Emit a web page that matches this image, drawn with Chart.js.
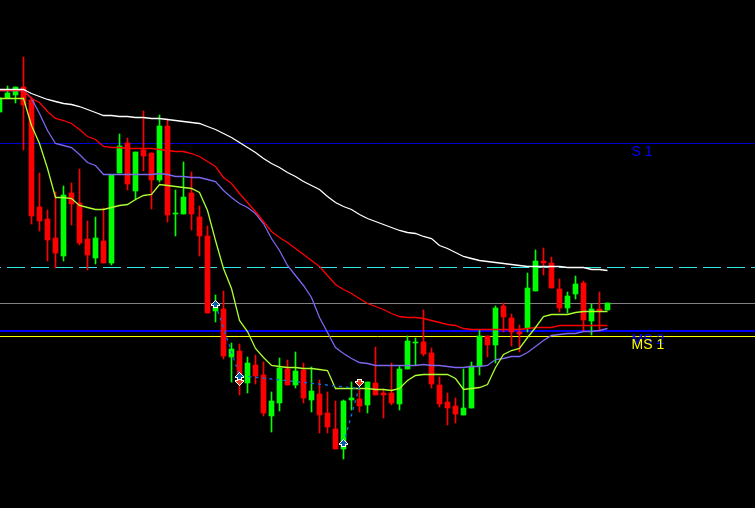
<!DOCTYPE html>
<html>
<head>
<meta charset="utf-8">
<title>Candles</title>
<script src="https://cdn.jsdelivr.net/npm/chart.js@4/dist/chart.umd.min.js"></script>
<style>
  html, body { margin: 0; padding: 0; background: #000; }
  canvas { display: block; }
</style>
</head>
<body>
<canvas id="chart" width="755" height="508"></canvas>
<script>
// candles, oldest first
const opens = [396,410,413,421,408,301,289,270,252,315,305,269,250,267,245,335,365,317,358,355,328,382,294,294,315,291,272,197,199,151,157,125,143,133,92,105,139,123,138,108,114,95,79,59,108,109,103,125,115,115,104,139,165,166,155,123,106,102,93,100,142,172,163,202,190,176,180,217,247,245,219,200,214,225,187,199,198]
const closes = [410,415,421,403,292,287,268,255,313,304,265,253,270,245,333,362,324,356,352,328,382,293,295,311,294,272,195,201,152,159,128,145,132,95,107,140,123,137,110,117,93,81,59,107,110,102,126,113,113,105,139,167,166,154,124,104,100,94,100,142,172,163,200,191,176,174,220,247,245,220,200,212,224,188,199,197,205]
const highs = [411,422,421,451,411,335,298,316,322,325,339,287,291,300,333,374,370,356,397,355,393,389,318,346,336,302,282,213,217,165,164,151,153,146,116,150,148,156,145,141,128,116,107,108,126,120,126,161,119,145,142,172,170,198,160,131,115,110,139,146,178,172,202,205,194,183,235,258,260,251,229,216,232,227,204,216,205]
const lows = [396,410,405,358,284,277,247,240,247,283,263,238,244,245,243,335,318,308,337,299,326,286,272,294,278,252,195,186,149,126,113,115,124,92,76,97,123,120,105,96,75,75,59,49,98,96,95,113,90,103,98,139,143,152,120,101,83,85,93,100,133,151,145,176,162,156,176,217,233,220,196,195,209,177,173,177,198]

// moving averages
const maWhite = [419,419,419,419,415,412,409,407,405,404,402,399,396,393,393,392,392,391,391,390,390,389,388,387,386,385,382,379,375,371,366,361,356,350,345,341,336,332,327,323,319,312,306,302,299,294,290,287,284,281,278,276,275,272,270,263,260,256,252,250,248,247,246,245,244,243,242,242,242,242,242,241,241,241,239,239,238]
const maRed = [418,418,418,418,410,406,397,390,388,385,379,372,369,362,361,361,360,360,360,360,359,358,357,357,355,352,347,342,331,325,315,306,297,287,277,271,266,260,254,248,242,233,224,219,215,210,205,202,199,195,192,191,191,190,188,186,184,183,180,179,179,179,179,179,179,179,180,181,181,181,183,183,183,183,183,183,183]
const maPurple = [418,418,418,418,410,395,378,365,363,361,354,346,343,334,334,334,334,334,334,334,335,334,332,332,331,331,329,327,318,311,305,301,295,285,270,258,243,233,223,211,191,176,161,155,150,146,145,143,143,143,143,143,143,144,143,143,142,141,141,142,142,143,149,150,152,152,156,162,168,173,174,175,175,177,177,178,180]
const maLime = [410,410,410,410,383,365,340,311,311,310,303,301,299,299,301,303,304,309,313,314,324,323,322,321,320,316,298,268,240,220,188,177,160,151,143,142,141,141,140,140,139,138,120,120,120,120,120,119,119,118,120,128,133,134,134,134,134,130,119,120,121,124,141,154,158,160,171,181,192,194,194,194,196,197,197,197,197]

// zigzag legs and the arrows sitting on them
const zigzagIndex = [27, 30, 45]
const zigzagValues = [204, 133, 120]
const zigzagTwoIndex = [43, 45]
const zigzagTwoValues = [65, 122]
const upIndex = [27, 30, 43]
const upValues = [204, 132, 65]
const downIndex = [30, 45]
const downValues = [126, 125]

// horizontal levels
const levelNames = ['S 1', 'cyan', 'gray', 'MS 2', 'MS 1']
const levelValues = [365, 241, 205, 177.5, 172]
const levelColors = ['#0000cd', '#33e6e6', '#808080', '#0000ff', '#ffff00']
const levelWidths = [1, 1, 1, 2, 1]

// object labels
const labelTexts = ['S 1', 'MS 2', 'MS 1']
const labelValues = [365, 177.5, 172]
const labelColors = ['#0000ff', '#0000ff', '#ffff00']
const labelIndex = 79

const xMin = 0.0625
const xMax = 94.4375

const toPoints = (values) => values.map((y, x) => ({ x, y }))
const zipPoints = (xs, ys) => xs.map((x, i) => ({ x, y: ys[i] }))
const candleColors = opens.map((o, i) => (closes[i] >= o ? '#00ff00' : '#ff0000'))

// arrow markers, drawn as small sprites
const makeArrow = (fill, flip) => {
  const rows = [
    '....W....',
    '...WFW...',
    '..WFFFW..',
    '.WFFFFFW.',
    'WFFFFFFFW',
    'WWWFFFWWW',
    '..WFFFW..',
    '..WWWWW..',
  ]
  const sprite = document.createElement('canvas')
  sprite.width = 9
  sprite.height = rows.length
  const c = sprite.getContext('2d')
  rows.forEach((row, r) => {
    const y = flip ? rows.length - 1 - r : r
    for (let x = 0; x < row.length; x++) {
      if (row[x] === '.') continue
      c.fillStyle = row[x] === 'W' ? '#ffffff' : fill
      c.fillRect(x, y, 1, 1)
    }
  })
  return sprite
}

const maLine = (values, color, order) => ({
  type: 'line',
  data: toPoints(values),
  yAxisID: 'yLine',
  borderColor: color,
  borderWidth: 1.3, // canvas antialiasing dims a plain 1px diagonal
  pointRadius: 0,
  tension: 0,
  order,
})

const zigzagLine = (xs, ys) => ({
  type: 'line',
  data: zipPoints(xs, ys),
  yAxisID: 'yLine',
  borderColor: '#1070e0',
  borderWidth: 1.3,
  borderDash: [3, 4],
  pointRadius: 0,
  tension: 0,
  order: 1,
})

const arrowSet = (xs, ys, sprite) => ({
  type: 'line',
  data: zipPoints(xs, ys),
  yAxisID: 'y',
  showLine: false,
  pointStyle: sprite,
  pointRadius: 4,
  order: 0,
})

const levelSets = levelValues.map((v, i) => ({
  type: 'line',
  label: levelNames[i],
  data: [{ x: xMin, y: v }, { x: xMax, y: v }],
  yAxisID: 'yLine',
  borderColor: levelColors[i],
  borderWidth: levelWidths[i],
  borderDash: levelNames[i] === 'cyan' ? [18, 6] : [],
  borderDashOffset: levelNames[i] === 'cyan' ? 17 : 0,
  pointRadius: 0,
  order: 20,
}))

const objectLabels = {
  id: 'objectLabels',
  afterDatasetsDraw: (chart) => {
    const { ctx, scales } = chart
    ctx.save()
    ctx.font = '14px "Liberation Sans", Arial, sans-serif'
    ctx.textBaseline = 'alphabetic'
    labelTexts.forEach((text, i) => {
      ctx.fillStyle = labelColors[i]
      ctx.fillText(text, scales.x.getPixelForValue(labelIndex), scales.yLine.getPixelForValue(labelValues[i]) + 12.5)
    })
    ctx.restore()
  },
}

new Chart(document.getElementById('chart'), {
  data: {
    datasets: [
      ...levelSets,
      {
        type: 'bar',
        data: lows.map((low, i) => ({ x: i, y: [low, highs[i]] })),
        backgroundColor: candleColors,
        barThickness: 1,
        grouped: false,
        order: 10,
      },
      {
        type: 'bar',
        data: opens.map((o, i) => ({ x: i, y: [o, closes[i]] })),
        backgroundColor: candleColors,
        barThickness: 5,
        grouped: false,
        order: 9,
      },
      maLine(maPurple, '#7b68ee', 5),
      maLine(maRed, '#ff0000', 4),
      maLine(maLime, '#adff2f', 3),
      maLine(maWhite, '#ffffff', 2),
      zigzagLine(zigzagIndex, zigzagValues),
      zigzagLine(zigzagTwoIndex, zigzagTwoValues),
      arrowSet(upIndex, upValues, makeArrow('#0a5fa8', false)),
      arrowSet(downIndex, downValues, makeArrow('#e63c1e', true)),
    ],
  },
  options: {
    responsive: false,
    animation: false,
    devicePixelRatio: 1,
    // no room for point overflow, the plot fills the whole canvas
    layout: { padding: 0, autoPadding: false },
    plugins: { legend: { display: false }, tooltip: { enabled: false } },
    scales: {
      x: { type: 'linear', display: false, min: xMin, max: xMax, offset: false },
      y: { display: false, min: 0, max: 508 },
      // half a pixel off the bar axis so the 1px lines stay crisp
      yLine: { display: false, min: 0.5, max: 508.5 },
    },
  },
  plugins: [objectLabels],
})
</script>
</body>
</html>
